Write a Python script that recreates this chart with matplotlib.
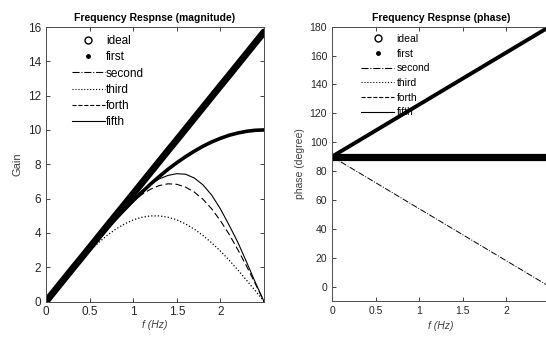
import matplotlib.pyplot as plt
from matplotlib.lines import Line2D

plt.rcParams['font.family'] = ['Liberation Sans', 'DejaVu Sans']

# frequency grid (Hz)
freq = [0.0, 0.1, 0.2, 0.3, 0.4, 0.5, 0.6, 0.7, 0.8, 0.9, 1.0, 1.1, 1.2,
        1.3, 1.4, 1.5, 1.6, 1.7, 1.8, 1.9, 2.0, 2.1, 2.2, 2.3, 2.4, 2.5]

# magnitude (gain)
mag_ideal = [0.0, 0.63, 1.26, 1.89, 2.51, 3.14, 3.77, 4.40, 5.03, 5.65, 6.28, 6.91, 7.54,
             8.17, 8.80, 9.42, 10.05, 10.68, 11.31, 11.94, 12.57, 13.19, 13.82, 14.45, 15.08, 15.71]
mag_first = [0.0, 0.63, 1.25, 1.87, 2.49, 3.09, 3.68, 4.26, 4.82, 5.36, 5.88, 6.37, 6.85,
             7.29, 7.71, 8.09, 8.44, 8.76, 9.05, 9.30, 9.51, 9.69, 9.82, 9.92, 9.98, 10.0]
mag_second = [0.0, 0.63, 1.25, 1.87, 2.49, 3.09, 3.68, 4.26, 4.82, 5.36, 5.88, 6.37, 6.85,
              7.29, 7.71, 8.09, 8.44, 8.76, 9.05, 9.30, 9.51, 9.69, 9.82, 9.92, 9.98, 10.0]
mag_third = [0.0, 0.63, 1.24, 1.84, 2.41, 2.94, 3.42, 3.85, 4.22, 4.52, 4.76, 4.91, 4.99,
             4.99, 4.91, 4.76, 4.52, 4.22, 3.85, 3.42, 2.94, 2.41, 1.84, 1.24, 0.63, 0.0]
mag_forth = [0.0, 0.63, 1.26, 1.88, 2.51, 3.13, 3.73, 4.32, 4.88, 5.39, 5.85, 6.24, 6.55,
             6.76, 6.86, 6.83, 6.67, 6.38, 5.96, 5.40, 4.71, 3.92, 3.02, 2.06, 1.04, 0.0]
mag_fifth = [0.0, 0.63, 1.26, 1.88, 2.51, 3.13, 3.75, 4.36, 4.95, 5.50, 6.00, 6.45, 6.85,
             7.15, 7.35, 7.45, 7.42, 7.20, 6.80, 6.20, 5.40, 4.45, 3.45, 2.30, 1.12, 0.0]

# phase (degree)
ph_ideal = [90] * 26
ph_first = [90.0, 93.6, 97.2, 100.8, 104.4, 108.0, 111.6, 115.2, 118.8, 122.4, 126.0, 129.6, 133.2,
            136.8, 140.4, 144.0, 147.6, 151.2, 154.8, 158.4, 162.0, 165.6, 169.2, 172.8, 176.4, 180.0]
ph_second = [90.0, 86.4, 82.8, 79.2, 75.6, 72.0, 68.4, 64.8, 61.2, 57.6, 54.0, 50.4, 46.8,
             43.2, 39.6, 36.0, 32.4, 28.8, 25.2, 21.6, 18.0, 14.4, 10.8, 7.2, 3.6, 0.0]
ph_third = [90] * 26
ph_forth = [90] * 26
ph_fifth = [90] * 26

labels = ['ideal', 'first', 'second', 'third', 'forth', 'fifth']
xticks = [0, 0.5, 1, 1.5, 2]
xticklabels = ['0', '0.5', '1', '1.5', '2']

fig = plt.figure(figsize=(5.46, 3.37), dpi=100)
ax1 = fig.add_axes([46 / 546, 35.5 / 337, 218 / 546, 274.5 / 337])
ax2 = fig.add_axes([332 / 546, 36 / 337, 217.5 / 546, 274.3 / 337])


def proxies():
    return [Line2D([], [], color='k', marker='o', mfc='none', ms=5, ls='none'),
            Line2D([], [], color='k', marker='.', ms=5, ls='none'),
            Line2D([], [], color='k', ls='-.', lw=0.8),
            Line2D([], [], color='k', ls=':', lw=0.8),
            Line2D([], [], color='k', ls='--', lw=0.8),
            Line2D([], [], color='k', ls='-', lw=0.8)]


def styl(ax, fs):
    ax.tick_params(direction='in', top=True, right=True, length=3, width=0.6,
                   labelsize=fs, colors='0.15')
    for s in ax.spines.values():
        s.set_color('0.3')
        s.set_linewidth(0.7)
    ax.set_xticks(xticks)
    ax.set_xticklabels(xticklabels)


# magnitude
ax1.plot(freq, mag_second, 'k-.', lw=0.8)
ax1.plot(freq, mag_third, 'k:', lw=0.9)
ax1.plot(freq, mag_forth, 'k--', lw=0.8, dashes=(6, 3))
ax1.plot(freq, mag_fifth, 'k-', lw=0.8)
ax1.plot(freq, mag_first, 'k-', lw=2.6, solid_capstyle='round')
ax1.plot(freq, mag_ideal, 'k-', lw=5.0, solid_capstyle='round')
ax1.set_xlim(0, 2.5)
ax1.set_ylim(0, 16)
ax1.set_yticks(range(0, 17, 2))
styl(ax1, 8.5)
ax1.set_title('Frequency Respnse (magnitude)', fontsize=7.5, fontweight='bold', pad=4)
ax1.set_ylabel('Gain', fontsize=8, color='0.25', labelpad=4)
ax1.set_xlabel('f (Hz)', fontsize=7.5, color='0.25', style='italic', labelpad=1)
ax1.legend(proxies(), labels, loc='upper left', frameon=False, fontsize=8.5,
           handlelength=2.8, handletextpad=0.1, labelspacing=0.35,
           borderaxespad=0.3, bbox_to_anchor=(0.08, 1.0))

# phase
ax2.plot(freq, ph_third, 'k:', lw=0.9)
ax2.plot(freq, ph_forth, 'k--', lw=0.8)
ax2.plot(freq, ph_fifth, 'k-', lw=0.8)
ax2.plot(freq, ph_second, 'k-.', lw=0.7)
ax2.plot(freq, ph_first, 'k-', lw=2.8)
ax2.plot(freq, ph_ideal, 'k-', lw=5.2)
ax2.set_xlim(0, 2.5)
ax2.set_ylim(-10, 180)
ax2.set_yticks(range(0, 181, 20))
styl(ax2, 7.5)
ax2.set_title('Frequency Respnse (phase)', fontsize=7.5, fontweight='bold', pad=4)
ax2.set_ylabel('phase (degree)', fontsize=7.5, color='0.25', labelpad=3)
ax2.set_xlabel('f (Hz)', fontsize=7.5, color='0.25', style='italic', labelpad=4)
ax2.legend(proxies(), labels, loc='upper left', frameon=False, fontsize=7.5,
           handlelength=3.2, handletextpad=0.2, labelspacing=0.45,
           borderaxespad=0.3, bbox_to_anchor=(0.1, 1.0))

fig.savefig('out.png', dpi=100)
